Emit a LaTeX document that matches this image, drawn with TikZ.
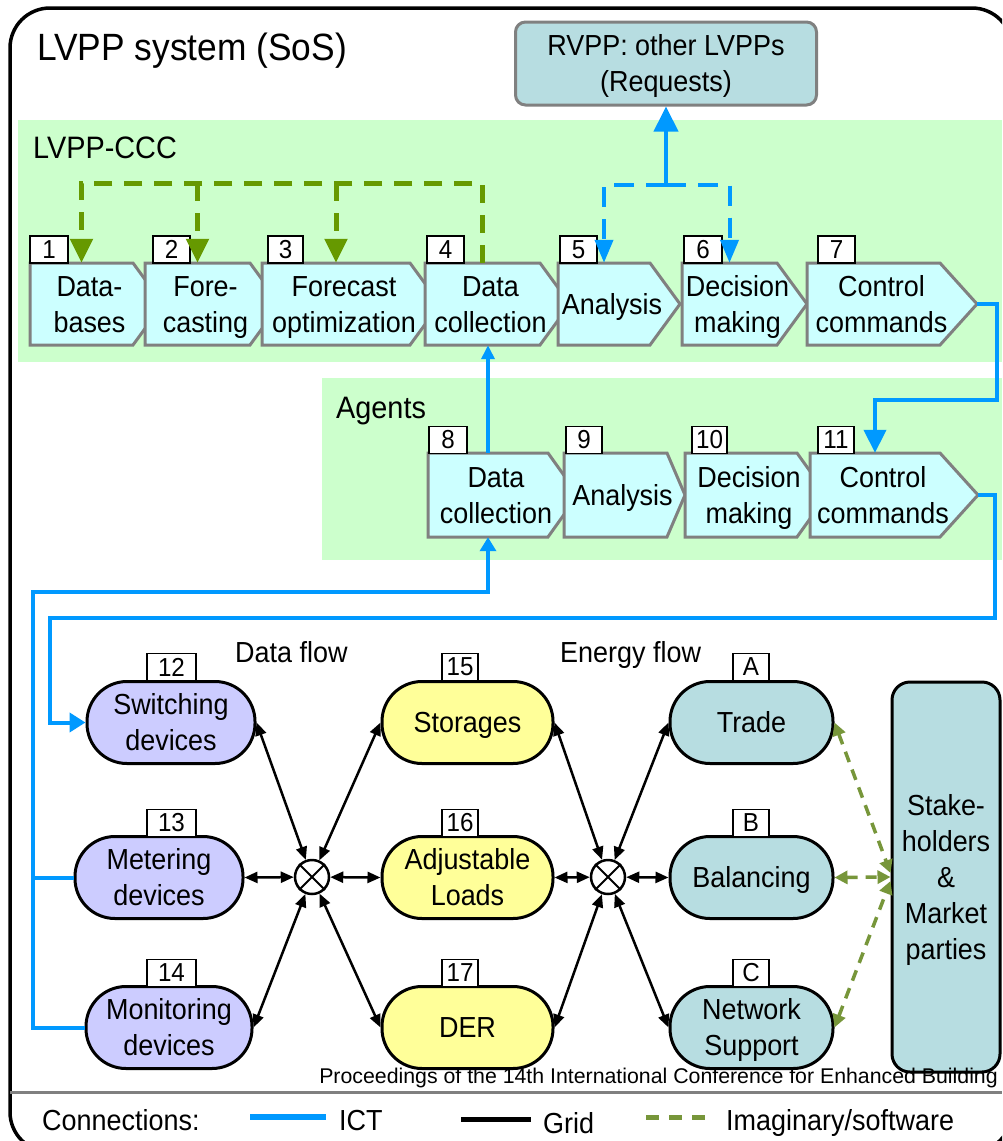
\documentclass[tikz,border=0pt]{standalone}
\usepackage{fontspec}
\setmainfont{Liberation Sans}[FakeStretch=0.93]
\newfontfamily\procfont{Liberation Sans}
\usetikzlibrary{arrows.meta,calc}

\definecolor{cyanbox}{RGB}{204,255,255}
\definecolor{edgegray}{RGB}{128,128,128}
\definecolor{zonegreen}{RGB}{204,255,204}
\definecolor{lavender}{RGB}{204,204,255}
\definecolor{paleyellow}{RGB}{255,255,153}
\definecolor{paleteal}{RGB}{183,221,225}
\definecolor{ictblue}{RGB}{0,153,255}
\definecolor{swgreen}{RGB}{102,153,0}
\definecolor{mktgreen}{RGB}{119,150,58}

\newcommand\bodyfont{\fontsize{29}{36}\selectfont}
\newcommand\tagfont{\fontsize{26}{30}\selectfont}
\newcommand\titlefont{\fontsize{38}{44}\selectfont}
\newcommand\headfont{\fontsize{31}{36}\selectfont}
\newcommand\lstrut{\rule[-8pt]{0pt}{36pt}}
\newcommand\twol[2]{\lstrut#1\\\lstrut#2}

% process step: name, left x, right x, tip depth, top y, bottom y
\newcommand\chevron[6]{%
  \draw[chev] (#2,#5) -- (#3,#5) -- ({#3+#4},{(#5+#6)/2}) -- (#3,#6) -- (#2,#6) -- cycle;
  \node[inner sep=0pt, minimum width={#3-#2}, minimum height={#6-#5}] (#1) at ({(#2+#3)/2},{(#5+#6)/2}) {};
  \coordinate (#1-tip) at ({#3+#4},{(#5+#6)/2});
}

\begin{document}
\begin{tikzpicture}[x=1pt,y=-1pt,
  chev/.style={fill=cyanbox, draw=edgegray, line width=3pt},
  btxt/.style={align=center, font=\bodyfont, inner sep=0pt},
  tagbox/.style={draw=black, fill=white, line width=1.6pt, inner sep=0pt, minimum height=27pt, font=\tagfont},
  device/.style={draw=black, line width=3pt, rounded corners=40pt, minimum height=82pt, inner sep=0pt, align=center, font=\bodyfont},
  ict/.style={draw=ictblue, line width=4pt},
  ictd/.style={draw=ictblue, line width=4pt, dash pattern=on 20pt off 12pt},
  soft/.style={draw=swgreen, line width=5pt, dash pattern=on 18pt off 12pt},
  mkt/.style={draw=mktgreen, line width=3.5pt, dash pattern=on 11pt off 8pt,
    {Triangle[width=13pt,length=13pt]}-{Triangle[width=13pt,length=13pt]}},
  grid/.style={draw=black, line width=2.5pt,
    {Triangle[width=11pt,length=13pt]}-{Triangle[width=11pt,length=13pt]}},
  bigtip/.style={-{Triangle[width=22pt,length=24pt]}},
  midtip/.style={-{Triangle[width=18pt,length=22pt]}},
  smalltip/.style={-{Triangle[width=15pt,length=15pt]}},
]
\useasboundingbox (0,0) rectangle (1002,1141);
\clip (0,0) rectangle (1002,1141);
\fill[white] (0,0) rectangle (1002,1141);

% outer frame of the system of systems
\draw[line width=3.5pt, rounded corners=40pt] (10,8) rectangle (1012,1152);

% control centre and agent zones
\fill[zonegreen] (18,120) rectangle (1002,362);
\fill[zonegreen] (322,378) rectangle (1002,560);

\node[anchor=base west, inner sep=0pt, font=\titlefont] (title) at (37,60) {LVPP system (SoS)};
\node[anchor=base west, inner sep=0pt, font=\headfont] (ccc) at (33,158) {LVPP-CCC};
\node[anchor=base west, inner sep=0pt, font=\headfont] (agents) at (336,418) {Agents};

% remote VPP
\node[draw=edgegray, fill=paleteal, line width=3pt, rounded corners=10pt,
      minimum width=301pt, minimum height=83pt, inner sep=0pt, align=center, font=\bodyfont]
      (rvpp) at (666,63.5) {\twol{RVPP: other LVPPs}{(Requests)}};

% CCC process chain
\chevron{b1}{30}{133}{30}{263}{345}
\chevron{b2}{145}{250}{30}{263}{345}
\chevron{b3}{262}{410}{30}{263}{345}
\chevron{b4}{425}{540}{30}{263}{345}
\chevron{b5}{558}{650}{30}{263}{345}
\chevron{b6}{682}{777}{30}{263}{345}
\chevron{b7}{807}{940}{37}{263}{345}
\node[btxt] at ([xshift=8]b1.center) {\twol{Data-}{bases}};
\node[btxt] at ([xshift=8]b2.center) {\twol{Fore-}{casting}};
\node[btxt] at ([xshift=8]b3.center) {\twol{Forecast}{optimization}};
\node[btxt] at ([xshift=8]b4.center) {\twol{Data}{collection}};
\node[btxt] at ([xshift=8]b5.center) {\lstrut Analysis};
\node[btxt] at ([xshift=8]b6.center) {\twol{Decision}{making}};
\node[btxt] at ([xshift=8]b7.center) {\twol{Control}{commands}};

% agent process chain
\chevron{b8}{428}{548}{30}{453}{537}
\chevron{b9}{564}{667}{18}{453}{537}
\chevron{b10}{685}{797}{30}{453}{537}
\chevron{b11}{810}{940}{38}{453}{537}
\node[btxt] at ([xshift=8]b8.center) {\twol{Data}{collection}};
\node[btxt] at ([xshift=7]b9.center) {\lstrut Analysis};
\node[btxt] at ([xshift=8]b10.center) {\twol{Decision}{making}};
\node[btxt] at ([xshift=8]b11.center) {\twol{Control}{commands}};

% step numbers
\node[tagbox, minimum width=38pt] (t1) at (49,249.5) {1};
\node[tagbox, minimum width=37pt] (t2) at (171.5,249.5) {2};
\node[tagbox, minimum width=35pt] (t3) at (285.5,249.5) {3};
\node[tagbox, minimum width=37pt] (t4) at (445.5,249.5) {4};
\node[tagbox, minimum width=37pt] (t5) at (578.5,249.5) {5};
\node[tagbox, minimum width=38pt] (t6) at (703,249.5) {6};
\node[tagbox, minimum width=37pt] (t7) at (836.5,249.5) {7};
\node[tagbox, minimum width=38pt] (t8) at (448,440) {8};
\node[tagbox, minimum width=36pt] (t9) at (584,440) {9};
\node[tagbox, minimum width=35pt] (t10) at (709.5,440) {10};
\node[tagbox, minimum width=36pt] (t11) at (836,440) {11};

% field level
\node[anchor=base west, inner sep=0pt, font=\bodyfont] (dflow) at (235,662) {Data flow};
\node[anchor=base west, inner sep=0pt, font=\bodyfont] (eflow) at (560,662) {Energy flow};

\node[device, fill=lavender, minimum width=168pt] (dSw) at (171,722.5) {\twol{Switching}{devices}};
\node[device, fill=lavender, minimum width=168pt] (dMet) at (159,877.5) {\twol{Metering}{devices}};
\node[device, fill=lavender, minimum width=166pt] (dMon) at (169,1027.5) {\twol{Monitoring}{devices}};
\node[device, fill=paleyellow, minimum width=171pt] (dSto) at (467.5,722.5) {\lstrut Storages};
\node[device, fill=paleyellow, minimum width=171pt] (dAdj) at (467.5,877.5) {\twol{Adjustable}{Loads}};
\node[device, fill=paleyellow, minimum width=171pt] (dDer) at (467.5,1027.5) {\lstrut DER};
\node[device, fill=paleteal, minimum width=163pt] (mTr) at (751.5,722.5) {\lstrut Trade};
\node[device, fill=paleteal, minimum width=163pt] (mBal) at (751.5,877.5) {\lstrut Balancing};
\node[device, fill=paleteal, minimum width=163pt] (mNet) at (751.5,1027.5) {\twol{Network}{Support}};
\node[draw=black, fill=paleteal, line width=3pt, rounded corners=18pt, minimum width=108pt,
      minimum height=390pt, inner sep=0pt, align=center, font=\bodyfont] (stake) at (946,877)
      {\lstrut Stake-\\\lstrut holders\\\lstrut \&\\\lstrut Market\\\lstrut parties};

\node[tagbox, minimum width=49pt] (t12) at (171.5,667) {12};
\node[tagbox, minimum width=49pt] (t13) at (171.5,823) {13};
\node[tagbox, minimum width=49pt] (t14) at (171.5,973) {14};
\node[tagbox, minimum width=36pt] (t15) at (460,667) {15};
\node[tagbox, minimum width=36pt] (t16) at (460,823) {16};
\node[tagbox, minimum width=36pt] (t17) at (460,973) {17};
\node[tagbox, minimum width=36pt] (tA) at (751,667) {A};
\node[tagbox, minimum width=36pt] (tB) at (751,823) {B};
\node[tagbox, minimum width=36pt] (tC) at (751,973) {C};

% grid junctions
\node[draw=black, circle, line width=2.5pt, minimum size=34pt, inner sep=0pt] (xA) at (312,877) {};
\node[draw=black, circle, line width=2.5pt, minimum size=34pt, inner sep=0pt] (xB) at (608,877) {};
\draw[line width=2pt] (xA.north west) -- (xA.south east) (xA.north east) -- (xA.south west);
\draw[line width=2pt] (xB.north west) -- (xB.south east) (xB.north east) -- (xB.south west);

% grid connections
\draw[grid] (dSw.east) -- (xA);
\draw[grid] (dMet.east) -- (xA);
\draw[grid] (dMon.east) -- (xA);
\draw[grid] (dSto.west) -- (xA);
\draw[grid] (dAdj.west) -- (xA);
\draw[grid] (dDer.west) -- (xA);
\draw[grid] (dSto.east) -- (xB);
\draw[grid] (dAdj.east) -- (xB);
\draw[grid] (dDer.east) -- (xB);
\draw[grid] (mTr.west) -- (xB);
\draw[grid] (mBal.west) -- (xB);
\draw[grid] (mNet.west) -- (xB);

% market links
\draw[mkt] (mTr.east) -- ([yshift=4]stake.west);
\draw[mkt] (mBal.east) -- (stake.west);
\draw[mkt] (mNet.east) -- ([yshift=-4]stake.west);

% software links inside the CCC
\coordinate (gtop) at (0,183);
\draw[soft, -{Triangle[width=22pt,length=24pt]}] (b4.north) -- (b4.north |- gtop) -| (b1.north);
\draw[soft, -{Triangle[width=22pt,length=24pt]}] (b2.north |- gtop) -- (b2.north);
\draw[soft, -{Triangle[width=22pt,length=24pt]}] (b3.north |- gtop) -- (b3.north);

% requests to and from other LVPPs
\coordinate (rq) at (666,185);
\draw[ict, -{Triangle[width=24pt,length=25pt]}] (rq) -- (rvpp.south);
\draw[ictd, -{Triangle[width=18pt,length=23pt]}] (rq) -| (b5.north);
\draw[ictd, -{Triangle[width=18pt,length=23pt]}] (rq) -| (b6.north);

% ICT links
\draw[ict, -{Triangle[width=13pt,length=14pt]}] (b8.north) -- (b8.north |- b4.south);
\coordinate (r1) at (997,400);
\draw[ict, -{Triangle[width=22pt,length=23pt]}] (b7-tip) -| (r1) -| (b11.north);
\coordinate (r2) at (995,618);
\coordinate (c2) at (50,722.5);
\draw[ict, -{Triangle[width=19pt,length=16pt]}] (b11-tip) -| (r2) -| (c2) -- (dSw.west);
\coordinate (c3) at (33,592);
\draw[ict, -{Triangle[width=16pt,length=14pt]}] (dMon.west) -| (c3) -| (b8.south);
\draw[ict] (dMet.west) -- (dMet.west -| c3);

% source line
\node[anchor=base east, inner sep=0pt, font={\procfont\fontsize{21.3}{24}\selectfont}] (proc) at (998,1083)
  {Proceedings of the 14th International Conference for Enhanced Building};

% legend
\draw[edgegray, line width=3pt] (10,1092) -- (1002,1092);
\node[anchor=base west, inner sep=0pt, font=\bodyfont] (lgc) at (42,1130) {Connections:};
\coordinate (l1a) at (250,1117); \coordinate (l1b) at (326,1117);
\draw[draw=ictblue, line width=6pt] (l1a) -- (l1b);
\node[anchor=base west, inner sep=0pt, font=\bodyfont] (lg1) at (339,1130) {ICT};
\coordinate (l2a) at (461,1119); \coordinate (l2b) at (531,1119);
\draw[line width=5pt] (l2a) -- (l2b);
\node[anchor=base west, inner sep=0pt, font=\bodyfont] (lg2) at (543,1133) {Grid};
\coordinate (l3a) at (646,1117); \coordinate (l3b) at (715,1117);
\draw[draw=mktgreen, line width=5pt, dash pattern=on 13pt off 10pt] (l3a) -- (l3b);
\node[anchor=base west, inner sep=0pt, font=\bodyfont] (lg3) at (726,1130) {Imaginary/software};
\end{tikzpicture}
\end{document}
